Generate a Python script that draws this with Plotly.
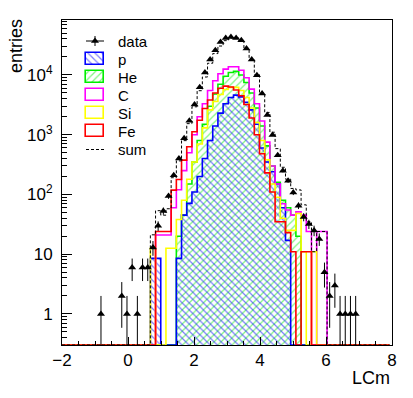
import numpy as np
import plotly.graph_objects as go

NBINS = 63
X_LOW = -2.0
BIN_W = 0.1575


def pad(start, vals):
    return [0] * start + vals + [0] * (NBINS - start - len(vals))


# bin contents (bin index = position of first value)
data_counts = pad(7, [1, 0, 0, 0, 2, 1, 6, 1, 6, 6, 13, 30, 53, 94, 210, 400, 870, 1710,
                      3200, 6250, 11000, 18100, 26000, 35700, 41700, 43400, 41700, 38200,
                      27700, 18100, 9900, 4900, 2130, 990, 455, 250, 170, 108, 65, 42, 32,
                      25, 18, 5, 2, 3, 1, 1, 1, 1])
p_counts = pad(17, [8.5, 8.5, 0, 0, 0, 8.5, 45, 71, 110, 200, 400, 800, 1400, 2300, 3300,
                    4200, 4600, 4300, 3500, 2600, 1500, 600, 350, 240, 150, 60, 17])
he_counts = pad(22, [20, 45, 150, 350, 800, 1500, 3000, 4800, 7000, 9500, 11000, 11500,
                     10000, 7500, 5000, 2800, 1400, 650, 300, 160, 80, 60, 45, 20])
c_counts = pad(18, [21, 21, 21, 60, 120, 250, 500, 1000, 2000, 3300, 5500, 8000, 10500,
                    12500, 13700, 13700, 12000, 9000, 5800, 3300, 1700, 750, 300, 150, 70,
                    55, 45, 51, 45, 24, 0, 24, 24])
si_counts = pad(17, [12.6, 0, 0, 12.6, 12.6, 38, 80, 180, 350, 700, 1300, 2600, 3600, 4700,
                     5700, 6200, 6200, 5500, 4200, 2800, 1600, 800, 380, 150, 90, 40, 25, 25,
                     48, 11, 0, 11])
fe_counts = pad(18, [24, 24, 24, 118, 178, 376, 630, 1120, 1750, 2740, 3800, 5000, 6000,
                     6500, 6300, 5600, 4500, 3200, 1900, 1000, 480, 230, 110, 35, 35, 23, 11,
                     0, 11, 11])
sum_counts = list(np.sum([p_counts, he_counts, c_counts, si_counts, fe_counts], axis=0))

edges = X_LOW + BIN_W * np.arange(NBINS + 1)
centers = edges[:-1] + BIN_W / 2

Y_RANGE = [-0.52, 4.92]
floor = 10 ** Y_RANGE[0]

# frame in page pixels
L, R, T, B = 62, 392, 20, 345


def step_y(vals):
    v = [c if c > 0 else floor for c in vals]
    return v + [v[-1]]


def bar_y(vals):
    return [c if c > 0 else None for c in vals]


def px_paper(px, py):
    return (px - L) / (R - L), (B - py) / (B - T)


BLUE, GREEN, MAGENTA, YELLOW, RED = '#0000ff', '#00ee00', '#ff00ff', '#ffff00', '#ff0000'

fig = go.Figure()

# hatched fills
fig.add_trace(go.Bar(x=centers, y=bar_y(he_counts), width=BIN_W,
                     marker=dict(color=GREEN, line_width=0,
                                 pattern=dict(shape='/', fgcolor=GREEN, bgcolor='rgba(0,0,0,0)',
                                              size=5, solidity=0.25))))
fig.add_trace(go.Bar(x=centers, y=bar_y(p_counts), width=BIN_W,
                     marker=dict(color=BLUE, line_width=0,
                                 pattern=dict(shape='\\', fgcolor=BLUE, bgcolor='rgba(0,0,0,0)',
                                              size=5, solidity=0.25))))

# outlines
for vals, col in [(he_counts, GREEN), (p_counts, BLUE), (c_counts, MAGENTA),
                  (si_counts, YELLOW), (fe_counts, RED)]:
    fig.add_trace(go.Scatter(x=edges, y=step_y(vals), mode='lines', line_shape='hv',
                             line=dict(color=col, width=1.6)))

fig.add_trace(go.Scatter(x=edges, y=step_y(sum_counts), mode='lines', line_shape='hv',
                         line=dict(color='black', width=1, dash='3px,2px')))

dy = [c if c > 0 else None for c in data_counts]
fig.add_trace(go.Scatter(x=centers, y=dy, mode='markers',
                         marker=dict(symbol='triangle-up', size=7, color='black'),
                         error_y=dict(type='data', array=np.sqrt(data_counts), width=0,
                                      thickness=1, color='black')))

# legend drawn in pixel coordinates (x2/y2 axes span the frame)
leg_y = [41, 59, 77, 95.2, 113.3, 131.4, 149.5]
leg_names = ['data', 'p', 'He', 'C', 'Si', 'Fe', 'sum']
fig.add_trace(go.Scatter(x=[86, 104], y=[leg_y[0]] * 2, mode='lines', xaxis='x2', yaxis='y2',
                         line=dict(color='black', width=1)))
fig.add_trace(go.Scatter(x=[95], y=[leg_y[0]], mode='markers', xaxis='x2', yaxis='y2',
                         marker=dict(symbol='triangle-up', size=7, color='black'),
                         error_y=dict(type='data', array=[5], width=0, thickness=1, color='black')))
box_style = [(BLUE, '\\'), (GREEN, '/'), (MAGENTA, ''), (YELLOW, ''), (RED, '')]
for yc, (col, shp) in zip(leg_y[1:6], box_style):
    fig.add_trace(go.Bar(x=[95], y=[12], base=[yc - 6], width=[18], xaxis='x2', yaxis='y2',
                         marker=dict(color=col if shp else 'rgba(0,0,0,0)',
                                     line=dict(color=col, width=1.6),
                                     pattern=dict(shape=shp, fgcolor=col, bgcolor='rgba(0,0,0,0)',
                                                  size=5, solidity=0.25))))
fig.add_trace(go.Scatter(x=[86, 104], y=[leg_y[6]] * 2, mode='lines', xaxis='x2', yaxis='y2',
                         line=dict(color='black', width=1, dash='3px,2px')))

annotations = [dict(x=116, y=yc, xref='x2', yref='y2', text=name, showarrow=False,
                    xanchor='left', yanchor='middle', font=dict(size=15))
               for yc, name in zip(leg_y, leg_names)]
tx, ty = px_paper(16, 46)
annotations.append(dict(x=tx, y=ty, xref='paper', yref='paper', text='entries', textangle=-90,
                        showarrow=False, xanchor='center', yanchor='middle', font=dict(size=18)))
tx, ty = px_paper(392, 378)
annotations.append(dict(x=tx, y=ty, xref='paper', yref='paper', text='LCm', showarrow=False,
                        xanchor='right', yanchor='middle', font=dict(size=18)))

ytick_vals = [1, 10, 100, 1000, 10000]
ytick_text = ['1', '10', '10<sup>2</sup>', '10<sup>3</sup>', '10<sup>4</sup>']
yminor = [k * 10.0 ** e for e in range(-1, 5) for k in range(2, 10)
          if Y_RANGE[0] < np.log10(k * 10.0 ** e) < Y_RANGE[1]]

fig.update_layout(
    width=413, height=398,
    margin=dict(l=L, r=413 - R, t=T, b=398 - B),
    paper_bgcolor='white', plot_bgcolor='white',
    showlegend=False, barmode='overlay', bargap=0,
    font=dict(family='Liberation Sans, Arial, sans-serif', size=17, color='black'),
    annotations=annotations,
    xaxis=dict(range=[-2, 8], tickmode='array', tickvals=[-2, 0, 2, 4, 6, 8],
               ticks='inside', ticklen=8, tickcolor='black', showline=True, mirror=True,
               linecolor='black', linewidth=1, showgrid=False, zeroline=False,
               ticklabelstandoff=0,
               minor=dict(tickmode='array', tickvals=list(np.arange(-2, 8.01, 0.5)),
                          ticks='inside', ticklen=4, tickcolor='black', showgrid=False)),
    yaxis=dict(type='log', range=Y_RANGE, tickmode='array', tickvals=ytick_vals,
               ticktext=ytick_text, ticks='inside', ticklen=10, tickcolor='black',
               showline=True, mirror=True, linecolor='black', linewidth=1,
               showgrid=False, zeroline=False, ticklabelstandoff=5,
               minor=dict(tickmode='array', tickvals=yminor, ticks='inside', ticklen=5,
                          tickcolor='black', showgrid=False)),
    xaxis2=dict(range=[L, R], overlaying='x', anchor='y2', visible=False, fixedrange=True),
    yaxis2=dict(range=[B, T], overlaying='y', anchor='x2', visible=False, fixedrange=True),
)

fig.write_html("out.html", config={'displayModeBar': False},
               post_script="document.body.style.margin='0';")
